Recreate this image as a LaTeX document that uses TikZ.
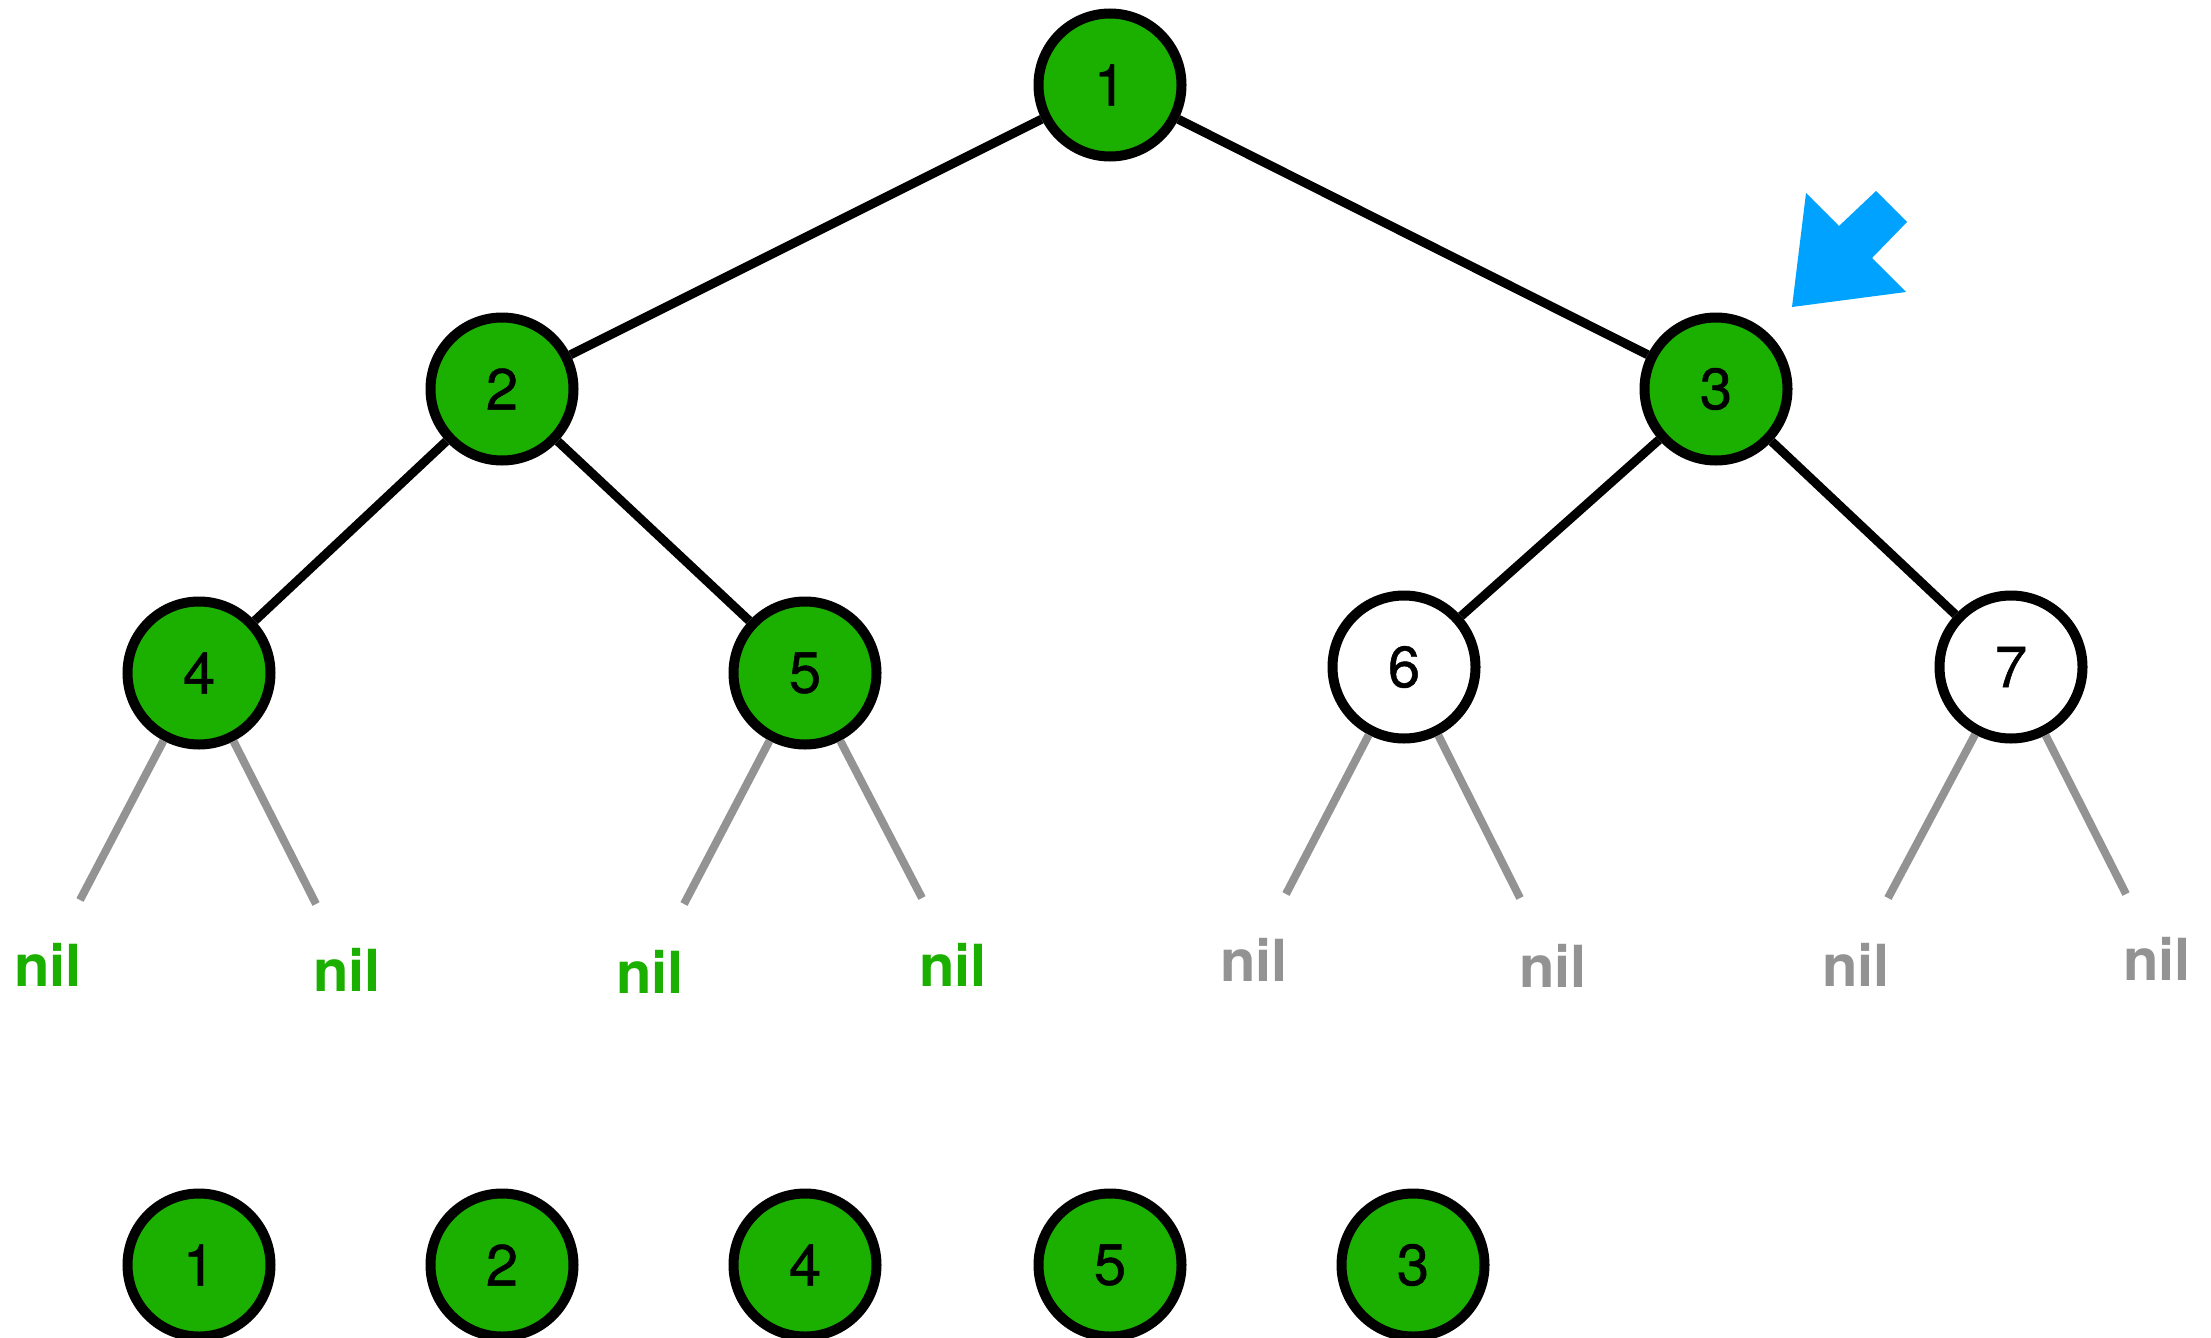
\documentclass[tikz,border=0pt]{standalone}
\usepackage{fontspec}
\setmainfont{TeX Gyre Heros}
\newfontfamily\digitfont[FakeBold=0.8]{TeX Gyre Heros}
\definecolor{nodegreen}{RGB}{27,176,0}
\definecolor{nilgray}{RGB}{147,147,147}
\definecolor{arrowblue}{RGB}{0,162,255}
\begin{document}
\begin{tikzpicture}[x=1pt,y=-1pt,
  tnode/.style={circle,draw=black,line width=10pt,minimum size=143pt,inner sep=0pt,font=\digitfont\fontsize{58}{60}\selectfont},
  gnode/.style={tnode,fill=nodegreen},
  wnode/.style={tnode,fill=white},
  edge/.style={line width=9pt,black},
  niledge/.style={line width=8pt,nilgray},
  nillab/.style={inner sep=0pt,font=\bfseries\fontsize{58}{60}\selectfont},
  gnil/.style={nillab,text=nodegreen},
  ynil/.style={nillab,text=nilgray}]
\useasboundingbox (0,0) rectangle (2211,1338);
% tree nodes
\node[gnode] (n1) at (1110,85) {1};
\node[gnode] (n2) at (502,389) {2};
\node[gnode] (n3) at (1716,389) {3};
\node[gnode] (n4) at (199,673) {4};
\node[gnode] (n5) at (805,673) {5};
\node[wnode] (n6) at (1404,667) {6};
\node[wnode] (n7) at (2011,667) {7};
% edges
\draw[edge] (n1) -- (n2);
\draw[edge] (n1) -- (n3);
\draw[edge] (n2) -- (n4);
\draw[edge] (n2) -- (n5);
\draw[edge] (n3) -- (n6);
\draw[edge] (n3) -- (n7);
% nil line ends
\coordinate (e4a) at (80,900);
\coordinate (e4b) at (316,904);
\coordinate (e5a) at (684,904);
\coordinate (e5b) at (922,898);
\coordinate (e6a) at (1286,894);
\coordinate (e6b) at (1520,898);
\coordinate (e7a) at (1888,898);
\coordinate (e7b) at (2126,894);
\draw[niledge] (n4) -- (e4a);
\draw[niledge] (n4) -- (e4b);
\draw[niledge] (n5) -- (e5a);
\draw[niledge] (n5) -- (e5b);
\draw[niledge] (n6) -- (e6a);
\draw[niledge] (n6) -- (e6b);
\draw[niledge] (n7) -- (e7a);
\draw[niledge] (n7) -- (e7b);
% nil labels
\node[gnil] (l1) at (48,965) {nil};
\node[gnil] (l2) at (347,970) {nil};
\node[gnil] (l3) at (650,972) {nil};
\node[gnil] (l4) at (953,965) {nil};
\node[ynil] (l5) at (1254,960) {nil};
\node[ynil] (l6) at (1553,966) {nil};
\node[ynil] (l7) at (1856,965) {nil};
\node[ynil] (l8) at (2157,959) {nil};
% blue arrow
\fill[arrowblue] (1806,193) -- (1839,226) -- (1876,191) -- (1907,222) -- (1872,258) -- (1906,292) -- (1792,307) -- cycle;
% bottom row
\node[gnode] (b1) at (199,1265) {1};
\node[gnode] (b2) at (502,1265) {2};
\node[gnode] (b3) at (805,1265) {4};
\node[gnode] (b4) at (1110,1265) {5};
\node[gnode] (b5) at (1413,1265) {3};
\end{tikzpicture}
\end{document}
